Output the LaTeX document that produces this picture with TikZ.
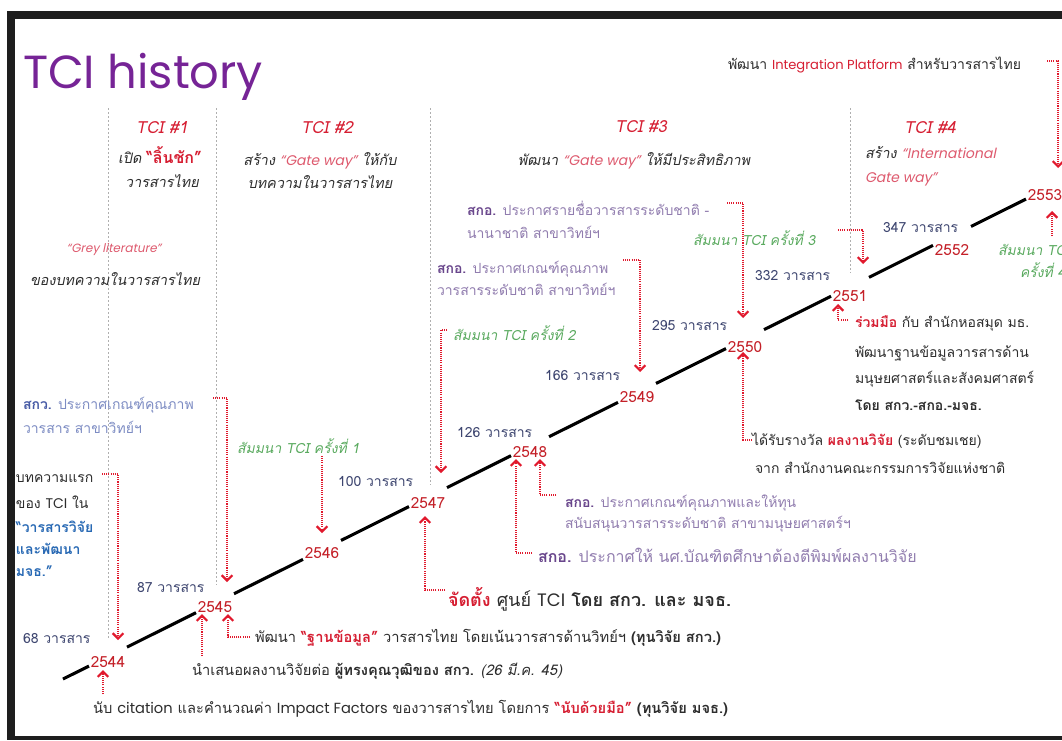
\documentclass[tikz,border=0pt]{standalone}
\usepackage{fontspec}
\setmainfont{Loma}[Script=Thai,AutoFakeSlant=0.2]
\newfontfamily\lat{Poppins}[AutoFakeSlant=0.2]
\usetikzlibrary{arrows.meta,calc}
\definecolor{ttl}{RGB}{118,36,150}
\definecolor{hred}{RGB}{214,30,50}
\definecolor{pinkr}{RGB}{222,90,110}
\definecolor{yred}{RGB}{196,32,40}
\definecolor{cnt}{RGB}{62,70,112}
\definecolor{grn}{RGB}{90,170,95}
\definecolor{skw}{RGB}{125,140,195}
\definecolor{skwb}{RGB}{70,90,165}
\definecolor{sko}{RGB}{145,125,175}
\definecolor{skob}{RGB}{105,70,140}
\definecolor{txg}{RGB}{45,45,45}
\definecolor{sepg}{RGB}{175,175,175}
\definecolor{blu}{RGB}{40,105,180}
\definecolor{frm}{RGB}{30,30,30}
\definecolor{arr}{RGB}{225,25,45}
\newcommand\redbi[1]{\textcolor{hred}{\bfseries\itshape #1}}
\newcommand\bldit[1]{{\bfseries\itshape #1}}
\newcommand\pinklat[1]{{\lat\itshape\color{pinkr}\fontsize{10.5}{12}\selectfont #1}}
\begin{document}
\begin{tikzpicture}[x=0.75pt,y=-0.75pt,
  every node/.style={inner sep=0pt,outer sep=0pt},
  txt/.style={anchor=base west,font=\fontsize{10.5}{12}\selectfont,text=txg},
  hdr/.style={anchor=base,font=\fontsize{12.5}{14}\selectfont\itshape,text=hred},
  sub/.style={anchor=base,font=\fontsize{10.8}{12}\selectfont\itshape,text=txg},
  sem/.style={anchor=base west,font=\fontsize{10.5}{12}\selectfont\itshape,text=grn},
  cntlab/.style={anchor=base west,font=\fontsize{10.5}{12}\selectfont,text=cnt},
  skwt/.style={anchor=base west,font=\fontsize{10.5}{12}\selectfont,text=skw},
  skot/.style={anchor=base west,font=\fontsize{10.5}{12}\selectfont,text=sko},
  yrbox/.style={minimum width=28.5pt,minimum height=15pt,inner sep=0pt},
  yrt/.style={font=\fontsize{11.5}{12}\selectfont,text=yred,inner sep=0pt},
  tl/.style={line width=2.3pt,black},
  sepl/.style={sepg,line width=0.5pt,dash pattern=on 1.5pt off 1.5pt},
  rarr/.style={arr,line width=0.8pt,dash pattern=on 0.8pt off 0.8pt,
    -{Straight Barb[length=4pt,width=8pt,line width=1.6pt]}}
]
\useasboundingbox (0,0) rectangle (1062,740);
\fill[white] (0,0) rectangle (1062,740);
% frame
\fill[frm] (7,11) rectangle (1062,19);
\fill[frm] (7,11) rectangle (15,740);
\fill[frm] (7,736) rectangle (1062,740);
% period separators
\draw[sepl] (108,108) -- (108,640);
\draw[sepl] (216,108) -- (216,585);
\draw[sepl] (430,108) -- (430,485);
\draw[sepl] (850,108) -- (850,273);
% title
\node[anchor=base west,font=\lat\fontsize{34.8}{40}\selectfont,text=ttl] (title) at (23,88) {TCI history};
% headers
\node[hdr] (h1) at (162,133) {TCI \#1};
\node[sub] (h1a) at (160,163) {เปิด \redbi{\fontsize{12}{12}\selectfont “ลิ้นชัก”}};
\node[sub] (h1b) at (162,187) {วารสารไทย};
\node[hdr] (h2) at (327,133) {TCI \#2};
\node[sub] (h2a) at (320,165) {สร้าง \pinklat{“Gate way”} ให้กับ};
\node[sub] (h2b) at (320,188) {บทความในวารสารไทย};
\node[hdr] (h3) at (641,132) {TCI \#3};
\node[sub] (h3a) at (634,165) {พัฒนา \pinklat{“Gate way”} ให้มีประสิทธิภาพ};
\node[hdr] (h4) at (930,133) {TCI \#4};
\node[sub,anchor=base west] (h4a) at (865,158) {สร้าง \pinklat{“International}};
\node[sub,anchor=base west] (h4b) at (865,182) {\pinklat{Gate way”}};
\node[txt] (integ) at (728,69) {พัฒนา {\lat\color{hred}\fontsize{9.8}{10}\selectfont Integration Platform} สำหรับวารสารไทย};
% left texts
\node[anchor=base,font=\lat\itshape\fontsize{9}{10}\selectfont,text=pinkr] (grey) at (114,252) {“Grey literature”};
\node[sub,anchor=base west] (grey2) at (30,285) {ของบทความในวารสารไทย};
\node[skwt] (skw1) at (23,409) {\textcolor{skwb}{\bfseries สกว.} ประกาศเกณฑ์คุณภาพ};
\node[skwt] (skw2) at (23,433) {วารสาร สาขาวิทย์ฯ};
\node[txt] (f1) at (16,482) {บทความแรก};
\node[txt] (f2) at (16,508) {ของ {\lat TCI} ใน};
\node[txt,text=blu,font=\fontsize{10.5}{12}\selectfont\bfseries\itshape] (f3) at (16,532) {“วารสารวิจัย};
\node[txt,text=blu,font=\fontsize{10.5}{12}\selectfont\bfseries\itshape] (f4) at (16,554) {และพัฒนา};
\node[txt,text=blu,font=\fontsize{10.5}{12}\selectfont\bfseries\itshape] (f5) at (16,576) {มจธ.”};
% seminars
\node[sem] (s1) at (237,453) {สัมมนา TCI ครั้งที่ 1};
\node[sem] (s2) at (453,340) {สัมมนา TCI ครั้งที่ 2};
\node[sem] (s3) at (693,245) {สัมมนา TCI ครั้งที่ 3};
\node[sem] (s4a) at (998,255) {สัมมนา TCI};
\node[sem] (s4b) at (1020,277) {ครั้งที่ 4};
% counts
\node[cntlab] (c68) at (23,643) {68 วารสาร};
\node[cntlab] (c87) at (137,592) {87 วารสาร};
\node[cntlab] (c100) at (338,486) {100 วารสาร};
\node[cntlab] (c126) at (457,437) {126 วารสาร};
\node[cntlab] (c166) at (545,380) {166 วารสาร};
\node[cntlab] (c295) at (652,330) {295 วารสาร};
\node[cntlab] (c332) at (755,280) {332 วารสาร};
\node[cntlab] (c347) at (883,232) {347 วารสาร};
% sko texts
\node[skot] (k1a) at (437,273) {\textcolor{skob}{\bfseries สกอ.} ประกาศเกณฑ์คุณภาพ};
\node[skot] (k1b) at (437,295) {วารสารระดับชาติ สาขาวิทย์ฯ};
\node[skot] (k2a) at (467,215) {\textcolor{skob}{\bfseries สกอ.} ประกาศรายชื่อวารสารระดับชาติ -};
\node[skot] (k2b) at (467,238) {นานาชาติ สาขาวิทย์ฯ};
\node[skot] (k3a) at (565,507) {\textcolor{skob}{\bfseries สกอ.} ประกาศเกณฑ์คุณภาพและให้ทุน};
\node[skot] (k3b) at (565,528) {สนับสนุนวารสารระดับชาติ สาขามนุษยศาสตร์ฯ};
\node[skot,font=\fontsize{12}{14}\selectfont] (k4) at (538,562) {\textcolor{skob}{\bfseries สกอ.} ประกาศให้ นศ.บัณฑิตศึกษาต้องตีพิมพ์ผลงานวิจัย};
% right texts
\node[txt] (r1) at (855,327) {\redbi{ร่วมมือ} กับ สำนักหอสมุด มธ.};
\node[txt] (r2) at (855,357) {พัฒนาฐานข้อมูลวารสารด้าน};
\node[txt] (r3) at (855,383) {มนุษยศาสตร์และสังคมศาสตร์};
\node[txt] (r4) at (855,410) {\bldit{โดย สกว.-สกอ.-มจธ.}};
\node[txt] (aw1) at (752,445) {ได้รับรางวัล \textcolor{hred}{\bfseries ผลงานวิจัย} (ระดับชมเชย)};
\node[txt] (aw2) at (755,473) {จาก สำนักงานคณะกรรมการวิจัยแห่งชาติ};
% bottom texts
\node[txt,font=\fontsize{13.5}{15}\selectfont] (est) at (448,606) {\redbi{จัดตั้ง} ศูนย์ {\lat TCI} \bldit{โดย สกว. และ มจธ.}};
\node[txt,font=\fontsize{11}{12}\selectfont] (b1) at (255,642) {พัฒนา \redbi{“ฐานข้อมูล”} วารสารไทย โดยเน้นวารสารด้านวิทย์ฯ \bldit{(ทุนวิจัย สกว.)}};
\node[txt,font=\fontsize{11}{12}\selectfont] (b2) at (192,675) {นำเสนอผลงานวิจัยต่อ \bldit{ผู้ทรงคุณวุฒิของ สกว.} {\itshape (26 มี.ค. 45)}};
\node[txt,font=\fontsize{11}{12}\selectfont] (b3) at (93,713) {นับ {\lat citation} และคำนวณค่า {\lat Impact Factors} ของวารสารไทย โดยการ \redbi{“นับด้วยมือ”} \bldit{(ทุนวิจัย มจธ.)}};
% timeline years (box on the line, year text just below)
\coordinate (tstart) at (63,679);
\node[yrbox,label={[yrt,yshift=-3.75pt]center:2544}] (y2544) at (108,656.6) {};
\node[yrbox,label={[yrt,yshift=-3pt]center:2545}] (y2545) at (215,603.2) {};
\node[yrbox,label={[yrt,yshift=-2.25pt]center:2546}] (y2546) at (322,549.9) {};
\node[yrbox,label={[yrt,yshift=-4.5pt]center:2547}] (y2547) at (428,497.1) {};
\node[yrbox,label={[yrt,yshift=-4.5pt]center:2548}] (y2548) at (530,446.2) {};
\node[yrbox,label={[yrt,yshift=-3pt]center:2549}] (y2549) at (637,392.9) {};
\node[yrbox,label={[yrt,yshift=-6pt]center:2550}] (y2550) at (745,339.1) {};
\node[yrbox,label={[yrt,yshift=-6.75pt]center:2551}] (y2551) at (850,286.8) {};
\node[yrbox,label={[yrt,yshift=-10.5pt]center:2552}] (y2552) at (952,235.9) {};
\node[yrbox,label={[yrt,yshift=-3.75pt]center:2553}] (y2553) at (1045,189.6) {};
\draw[tl] (tstart) -- (y2544) -- (y2545) -- (y2546) -- (y2547) -- (y2548) -- (y2549) -- (y2550) -- (y2551) -- (y2552) -- (y2553);
% down arrows
\coordinate (a1s) at (102,474); \coordinate (a1e) at (118,640);
\draw[rarr] (a1s) -| (a1e);
\coordinate (a2s) at (213,398); \coordinate (a2e) at (227,582);
\draw[rarr] (a2s) -| (a2e);
\coordinate (a3s) at (322,456); \coordinate (a3e) at (322,533);
\draw[rarr] (a3s) -- (a3e);
\coordinate (a4s) at (447,330); \coordinate (a4e) at (441,473);
\draw[rarr] (a4s) -| (a4e);
\coordinate (a5s) at (623,260); \coordinate (a5e) at (640,372);
\draw[rarr] (a5s) -| (a5e);
\coordinate (a6s) at (727,203); \coordinate (a6e) at (743,318);
\draw[rarr] (a6s) -| (a6e);
\coordinate (a7s) at (838,230); \coordinate (a7e) at (863,264);
\draw[rarr] (a7s) -| (a7e);
\coordinate (a8s) at (1047,61); \coordinate (a8e) at (1058,168);
\draw[rarr] (a8s) -| (a8e);
% up arrows
\coordinate (u1s) at (103,694); \coordinate (u1e) at (103,670);
\draw[rarr] (u1s) -- (u1e);
\coordinate (u2s) at (202,656); \coordinate (u2e) at (202,614);
\draw[rarr] (u2s) -- (u2e);
\coordinate (u3s) at (250,637); \coordinate (u3e) at (228,614);
\draw[rarr] (u3s) -| (u3e);
\coordinate (u4s) at (445,590); \coordinate (u4e) at (425,516);
\draw[rarr] (u4s) -| (u4e);
\coordinate (u5s) at (532,553); \coordinate (u5e) at (516,459);
\draw[rarr] (u5s) -| (u5e);
\coordinate (u6s) at (556,495); \coordinate (u6e) at (540,459);
\draw[rarr] (u6s) -| (u6e);
\coordinate (u7s) at (752,440); \coordinate (u7e) at (743,352);
\draw[rarr] (u7s) -| (u7e);
\coordinate (u8s) at (848,320); \coordinate (u8e) at (838,304);
\draw[rarr] (u8s) -| (u8e);
\coordinate (u9s) at (1052,236); \coordinate (u9e) at (1052,211);
\draw[rarr] (u9s) -- (u9e);
\end{tikzpicture}
\end{document}
